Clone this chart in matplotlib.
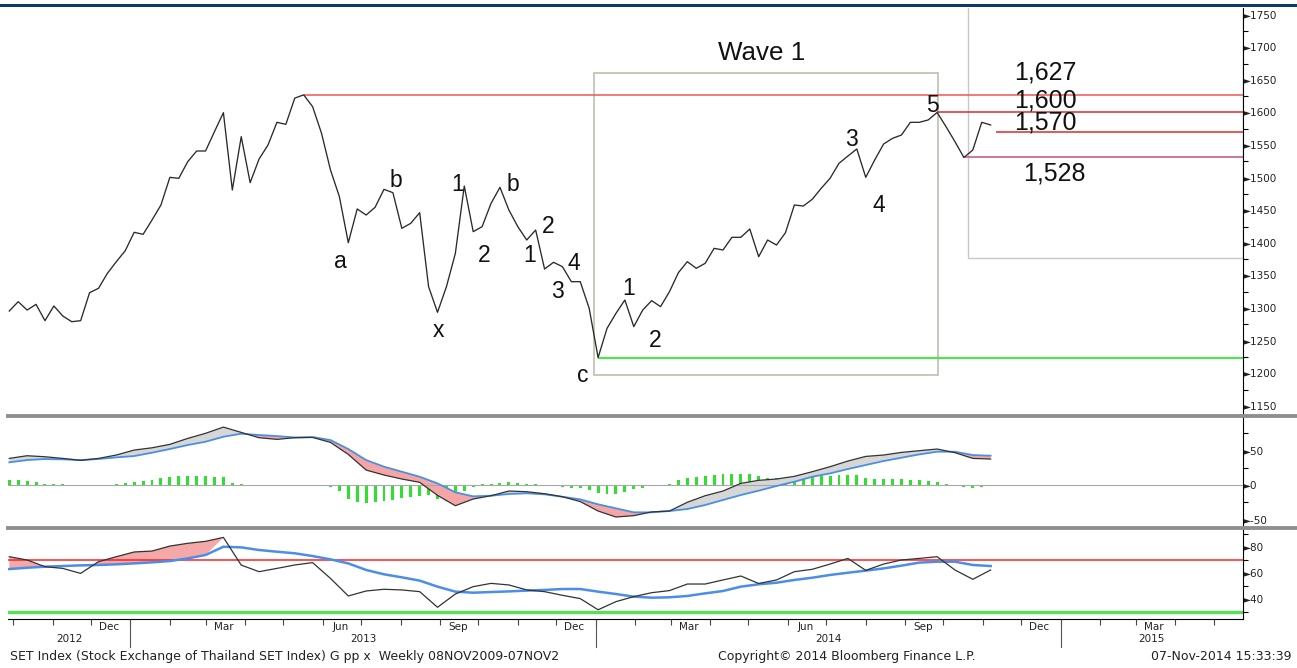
import numpy as np
import pandas as pd
import matplotlib
matplotlib.use("Agg")
import matplotlib.pyplot as plt
import matplotlib.dates as mdates
import matplotlib.transforms as mtransforms
from matplotlib.patches import Rectangle
from matplotlib.lines import Line2D
from matplotlib.ticker import NullFormatter

# weekly closes, SET index
weeks = pd.date_range(end="2014-11-07", periods=111, freq="W-FRI")
price = [1295.5, 1309.8, 1297, 1305.7, 1280.7, 1303.2, 1287.8, 1279.1, 1280.7, 1323.6,
         1330.3, 1353.3, 1371.2, 1388, 1416.2, 1413.1, 1435.1, 1458.1, 1500.5, 1499,
         1524.5, 1540.9, 1540.9, 1570.6, 1599.7, 1481.1, 1562.9, 1492.3, 1528.6, 1550.1,
         1584.9, 1581.8, 1622, 1627, 1608.9, 1568, 1512, 1470.9, 1400.3, 1452,
         1442.7, 1454.5, 1482.1, 1477, 1422.3, 1430, 1446.3, 1332.8, 1293.5, 1332.8,
         1383.9, 1487.2, 1417.2, 1424.9, 1460.6, 1485.2, 1450.4, 1424.9, 1404.4, 1419.7,
         1359.9, 1370.2, 1363.5, 1340.5, 1340.5, 1299.6, 1224, 1268.9, 1291.9, 1312.4,
         1271.5, 1297, 1311.4, 1302.2, 1325.2, 1354.3, 1371.2, 1361, 1368.6, 1391.6,
         1389.1, 1408.5, 1408.5, 1421.3, 1378.8, 1404.4, 1396.7, 1415.6, 1458.1, 1456.5,
         1466.8, 1483.6, 1499, 1522, 1533.2, 1544, 1500.5, 1527.1, 1551.6, 1560.3,
         1565.4, 1584.9, 1584.9, 1588.5, 1600, 1578.2, 1555.2, 1531, 1542.4, 1584.9,
         1580.8]
macd_hist = [7, 7, 6, 4, 2, 2, 1, 0, -1, 0, 0, 0.5, 1, 3, 5, 6, 8, 10, 12, 13,
             13.5, 13.5, 13.5, 12, 11, 3, 2, 0, -1, -1, -1, -1, 0, 0, 0, 0, -3, -9, -20, -25,
             -26, -25, -23, -21, -19, -17, -16, -15, -20, -23, -19, -8, -3, 1, 2, 3, 4, 3, 2, 1,
             -1, -2, -3, -4, -5, -7, -11, -13, -13, -10, -6, -4, -2, 0, 2, 7, 10, 12, 13, 14.5,
             15.5, 16, 16, 16, 13, 10.5, 10.5, 10, 10.5, 10.5, 12, 12.5, 13.5, 14.5, 14.5, 14.5,
             10.5, 8.5, 8.5, 8.5, 8.5, 7, 7, 6, 4, 2, 0, -2.5, -5, -2.5, -1]

# indicator lines read every second week
ind_dates = weeks[::2]
macd = [38.6, 42.5, 41, 38.6, 35.7, 38.6, 43.5, 50.7, 54, 59, 67.6, 75, 84, 76.3, 68.6,
        66.2, 68.6, 69, 61.8, 44.4, 21.7, 14.5, 8.7, 3.9, -15, -30, -20.3, -15.5, -8.7,
        -9.7, -12.6, -17, -24, -37.7, -46.4, -44.4, -39, -37.7, -25, -15.5, -8.7, 2.4, 6.8,
        8.7, 12.6, 19.3, 26.6, 34.8, 41.5, 43.5, 47.3, 49.8, 52.2, 46.9, 38.6, 37.7]
macd_signal = [32.9, 36.2, 37.7, 37.2, 36.2, 37.7, 40.1, 42, 46.9, 52.2, 58, 62.8, 70, 74.4,
               72.5, 71, 69, 69.6, 65.2, 52.2, 36.2, 26.6, 19.3, 12, 2.4, -10.6, -16.4, -15.5,
               -13, -12, -13.5, -17, -20.8, -28, -33.8, -39.6, -39.6, -37.7, -34.8, -29, -21.7,
               -14.5, -8.2, -1.4, 4.8, 12, 16.9, 23.2, 29, 34.8, 39.6, 44.4, 48.3, 48.3, 43.5, 42.5]
rsi = [72.4, 69.9, 64.8, 63.5, 59.7, 68.6, 72.4, 76, 76.7, 80.5, 82.6, 84.1, 87.1, 66, 61,
       63.5, 66.1, 67.9, 55.9, 42.5, 46.3, 47.6, 47.1, 45.8, 33.9, 44, 49.6, 52.1, 50.9, 47.1,
       45.8, 43, 40.5, 32, 38.2, 42, 45, 46.6, 51.6, 51.6, 54.7, 57.7, 52, 54.7, 61, 62.8,
       66.8, 71.1, 62, 66.8, 69.9, 71.1, 72.4, 62.3, 55.2, 62.3]
rsi_ma = [63, 64, 64.8, 65.3, 65.8, 66.1, 66.6, 67.3, 68.1, 69.1, 71.1, 73.7, 80, 79.5, 77.5,
          76.2, 75, 72.9, 70.4, 67.3, 62.3, 59, 56.7, 54.2, 49.6, 45.8, 45, 45.5, 46, 46.6,
          47.1, 47.8, 47.8, 45.8, 44, 42, 41.2, 41.5, 42.5, 44.5, 46.3, 49.6, 51.4, 52.6, 54.7,
          56.4, 58.5, 60.2, 61.8, 63.5, 65.6, 67.9, 68.6, 68.6, 66.1, 65.3]

wave_labels = [("2013-06-15", 1371, "a"), ("2013-07-28", 1496, "b"), ("2013-08-31", 1266, "x"),
               ("2013-09-15", 1489, "1"), ("2013-10-06", 1381, "2"), ("2013-10-28", 1490, "b"),
               ("2013-11-10", 1381, "1"), ("2013-11-25", 1425, "2"), ("2013-12-02", 1325, "3"),
               ("2013-12-15", 1369, "4"), ("2013-12-22", 1197, "c"), ("2014-01-27", 1330, "1"),
               ("2014-02-17", 1251, "2"), ("2014-07-21", 1559, "3"), ("2014-08-11", 1457, "4"),
               ("2014-09-22", 1611, "5")]
level_labels = [("2014-12-20", 1662, "1,627"), ("2014-12-20", 1619, "1,600"),
                ("2014-12-20", 1584, "1,570"), ("2014-12-27", 1507, "1,528")]
resistance = 1570

x_left = pd.Timestamp("2012-09-27")
x_right = pd.Timestamp("2015-05-24")
d = mdates.date2num

fig = plt.figure(figsize=(12.97, 6.68), dpi=100)
L, W = 0.00617, 0.9522
ax1 = fig.add_axes([L, 0.3802, W, 0.6078])
ax2 = fig.add_axes([L, 0.2126, W, 0.1631], sharex=ax1)
ax3 = fig.add_axes([L, 0.0734, W, 0.1347], sharex=ax1)

# main price panel
s = pd.Series(price, index=weeks)
top_day = s[:"2013-12-31"].idxmax()
w5_day = s["2014"].idxmax()
low_day = s.idxmin()
pull_day = s[w5_day:].idxmin()

ax1.add_patch(Rectangle((d(pd.Timestamp("2013-12-31")), 1197), d(pd.Timestamp("2014-09-27")) - d(pd.Timestamp("2013-12-31")),
                        1660.5 - 1197, fill=False, ec="#b9b9a8", lw=1.1))
ax1.add_patch(Rectangle((d(pd.Timestamp("2014-10-20")), 1377), d(x_right) - d(pd.Timestamp("2014-10-20")),
                        600, fill=False, ec="#c8c8c8", lw=1.0))
ax1.hlines(s[top_day], top_day, x_right, color="#f05555", lw=1.1)
ax1.hlines(s[w5_day], w5_day, x_right, color="#e02828", lw=1.1)
ax1.hlines(resistance, weeks[-1] + pd.Timedelta(days=4), x_right, color="#e02828", lw=1.1)
ax1.hlines(s[pull_day], pull_day, x_right, color="#c0508c", lw=1.1)
ax1.hlines(s[low_day], low_day, x_right, color="#55e055", lw=1.6)
ax1.plot(weeks, price, color="#2a2a2a", lw=0.95)

for dt, v, t in wave_labels:
    ax1.text(d(pd.Timestamp(dt)), v, t, fontsize=16.5, ha="center", va="center",
             family="Liberation Sans", color="#111111")
for dt, v, t in level_labels:
    ax1.text(d(pd.Timestamp(dt)), v, t, fontsize=18, ha="center", va="center",
             family="Liberation Sans", color="#111111")
ax1.text(d(pd.Timestamp("2014-05-11")), 1691, "Wave 1", fontsize=18.7, ha="center", va="center",
         family="Liberation Sans", color="#111111")
ax1.set_ylim(1137.5, 1760.2)

# MACD panel
ax2.axhline(0, color="#a8a8a8", lw=0.8)
ax2.bar(weeks, macd_hist, width=2.3, color="#2fe02f")
m = np.array(macd)
sg = np.array(macd_signal)
ax2.fill_between(ind_dates, m, sg, where=m >= sg, interpolate=True, color="#d6d6d6", lw=0)
ax2.fill_between(ind_dates, m, sg, where=m < sg, interpolate=True, color="#f5a5a5", lw=0)
ax2.plot(ind_dates, sg, color="#4a90e2", lw=1.3)
ax2.plot(ind_dates, m, color="#333333", lw=0.9)
ax2.set_ylim(-59.4, 98.6)

# RSI panel
r = np.array(rsi)
rm = np.array(rsi_ma)
ax3.axhline(70, color="#ff2020", lw=1.1)
ax3.axhline(30, color="#55e055", lw=2.4)
ax3.fill_between(ind_dates, r, rm, where=(r > rm) & (ind_dates <= pd.Timestamp("2013-03-10")),
                 interpolate=True, color="#f4a8a8", lw=0)
ax3.plot(ind_dates, rm, color="#4a8ee8", lw=1.8)
ax3.plot(ind_dates, r, color="#333333", lw=0.9)
ax3.set_ylim(25, 93.5)
ax3.set_xlim(x_left, x_right)


def right_ticks(ax, major, minor):
    ax.yaxis.tick_right()
    ax.set_yticks(major)
    ax.set_yticklabels(["\u25ba" + str(v) for v in major])
    ax.set_yticks(minor, minor=True)
    ax.tick_params(axis="y", which="major", length=0, pad=0, labelsize=7.5, labelcolor="#222222")
    ax.tick_params(axis="y", which="minor", length=3.5, width=0.8, direction="out")


right_ticks(ax1, list(range(1150, 1751, 50)), list(range(1175, 1751, 50)))
right_ticks(ax2, [-50, 0, 50], [-25, 25, 75])
right_ticks(ax3, [40, 60, 80], [30, 50, 70, 90])

for ax in (ax1, ax2, ax3):
    for side in ("top", "left"):
        ax.spines[side].set_visible(False)
    ax.spines["right"].set_color("black")
for ax in (ax1, ax2):
    ax.spines["bottom"].set_visible(False)
    ax.tick_params(axis="x", which="both", bottom=False, labelbottom=False)

ax3.xaxis.set_major_locator(mdates.MonthLocator())
ax3.xaxis.set_major_formatter(NullFormatter())
ax3.xaxis.set_minor_locator(mdates.MonthLocator(bymonth=[3, 6, 9, 12], bymonthday=15))
ax3.xaxis.set_minor_formatter(mdates.DateFormatter("%b"))
ax3.tick_params(axis="x", which="major", length=4, width=0.8, color="#444444")
ax3.tick_params(axis="x", which="minor", length=0, pad=2, labelsize=7.5, labelcolor="#222222")

# year labels and separators
trans = mtransforms.blended_transform_factory(ax3.transData, ax3.transAxes)
years = [2012, 2013, 2014, 2015]
for y in years:
    a = max(pd.Timestamp(f"{y}-01-01"), x_left)
    b = min(pd.Timestamp(f"{y + 1}-01-01"), x_right)
    ax3.text(d(a) + (d(b) - d(a)) / 2, -0.225, str(y), transform=trans, ha="center", va="center",
             fontsize=7.5, color="#222222")
    if y > 2012:
        ax3.plot([d(pd.Timestamp(f"{y}-01-01"))] * 2, [0, -0.31], transform=trans, color="#555555",
                 lw=0.8, clip_on=False)

# panel separators and header bar
for yy in (1 - 415.8 / 668, 1 - 527.5 / 668):
    fig.add_artist(Line2D([L, 1.0], [yy, yy], color="#8f8f8f", lw=2.8))
fig.add_artist(Rectangle((0, 1 - 7 / 668), 1, 3 / 668, transform=fig.transFigure,
                         color="#0b3a6c", lw=0))

fig.text(0.0077, 0.0165, "SET Index (Stock Exchange of Thailand SET Index) G pp x  Weekly 08NOV2009-07NOV2",
         fontsize=9, ha="left", va="center", color="#222222")
fig.text(0.5536, 0.0165, "Copyright\u00a9 2014 Bloomberg Finance L.P.", fontsize=9, ha="left",
         va="center", color="#222222")
fig.text(0.996, 0.0165, "07-Nov-2014 15:33:39", fontsize=9, ha="right", va="center", color="#222222")

fig.savefig("out.png", dpi=100)
